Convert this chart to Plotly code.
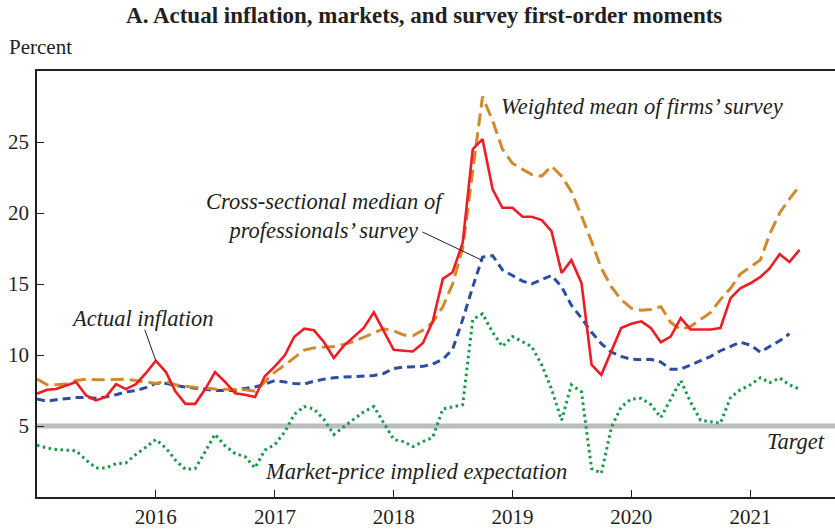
import pandas as pd
import plotly.graph_objects as go

# --- data (monthly, Jan 2015 - Jun 2021), percent -------------------------
START = "2015-01-01"
N_MONTHS = 78

actual_inflation = [
    7.27, 7.55, 7.6, 7.85, 8.1, 7.15, 6.8, 7.05, 7.95, 7.6, 7.95, 8.7,
    9.6, 8.8, 7.45, 6.56, 6.56, 7.6, 8.8, 8.1, 7.3, 7.2, 7.04, 8.5,
    9.2, 10.0, 11.27, 11.85, 11.74, 10.9, 9.79, 10.66, 11.27, 11.9, 13.0, 11.67,
    10.37, 10.3, 10.25, 10.85, 12.37, 15.36, 15.83, 17.9, 24.5, 25.2, 21.67, 20.37,
    20.37, 19.74, 19.74, 19.5, 18.72, 15.78, 16.68, 15.08, 9.32, 8.6, 10.3, 11.9,
    12.2, 12.37, 11.9, 10.9, 11.3, 12.6, 11.8, 11.8, 11.8, 11.9, 14.0, 14.7,
    15.05, 15.5, 16.1, 17.1, 16.55, 17.4,
]

firms_survey = [
    8.3, 7.9, 7.9, 7.95, 8.2, 8.3, 8.25, 8.25, 8.3, 8.3, 8.2, 8.1,
    8.0, 8.15, 7.9, 7.8, 7.7, 7.65, 7.6, 7.6, 7.55, 7.55, 7.45, 8.1,
    8.8, 9.3, 9.8, 10.35, 10.5, 10.55, 10.6, 10.75, 10.95, 11.25, 11.55, 11.85,
    11.7, 11.4, 11.35, 11.75, 12.3, 13.4, 15.0, 17.5, 23.0, 28.2, 26.5, 24.5,
    23.5, 23.1, 22.7, 22.6, 23.3, 22.6, 21.5, 19.8, 18.0, 16.1, 14.8, 13.9,
    13.3, 13.15, 13.2, 13.4, 12.3, 11.8, 12.0, 12.5, 13.0, 13.9, 14.7, 15.7,
    16.2, 16.7, 18.5, 20.0, 21.0, 21.9,
]

professionals_median = [
    6.9, 6.75, 6.85, 6.95, 7.0, 7.0, 6.95, 7.05, 7.2, 7.4, 7.5, 7.7,
    8.0, 8.0, 7.85, 7.75, 7.65, 7.6, 7.5, 7.5, 7.5, 7.65, 7.75, 7.95,
    8.2, 8.1, 8.0, 7.95, 8.15, 8.3, 8.4, 8.45, 8.5, 8.52, 8.55, 8.7,
    9.05, 9.15, 9.15, 9.2, 9.35, 9.7, 10.4, 12.5, 14.8, 16.9, 17.0, 16.0,
    15.6, 15.2, 15.0, 15.3, 15.6, 14.8, 13.5, 12.6, 11.6, 10.8, 10.2, 9.9,
    9.7, 9.67, 9.7, 9.5, 9.0, 9.0, 9.3, 9.6, 9.9, 10.3, 10.6, 10.9,
    10.7, 10.2, 10.6, 11.0, 11.5, None,
]

market_implied = [
    3.65, 3.45, 3.35, 3.3, 3.25, 2.6, 2.05, 2.05, 2.35, 2.4, 3.0, 3.5,
    4.05, 3.45, 2.6, 1.95, 2.0, 3.2, 4.42, 3.6, 3.05, 2.85, 2.05, 3.3,
    3.7, 4.6, 5.8, 6.37, 6.2, 5.45, 4.4, 4.95, 5.5, 6.0, 6.37, 5.2,
    4.05, 3.9, 3.55, 3.9, 4.2, 6.2, 6.35, 6.5, 12.5, 12.9, 11.6, 10.6,
    11.3, 10.95, 10.6, 9.3, 7.6, 5.4, 7.9, 7.4, 2.0, 1.67, 4.9, 6.35,
    6.9, 6.95, 6.5, 5.6, 6.9, 8.2, 6.7, 5.4, 5.3, 5.2, 7.0, 7.55,
    7.9, 8.4, 8.05, 8.38, 7.9, 7.6,
]

TARGET = 5
Y_TICKS = [5, 10, 15, 20, 25]
X_TICK_YEARS = [2016, 2017, 2018, 2019, 2020, 2021]

months = pd.date_range(START, periods=N_MONTHS, freq="MS")

# --- style ------------------------------------------------------------------
INK = "#231f20"
SERIF = "Liberation Serif, Times New Roman, serif"
RED = "#ee1c25"
ORANGE = "#d08a2c"
BLUE = "#2b4ea2"
GREEN = "#159a48"
TARGET_GRAY = "#bbbcbe"

fig = go.Figure()

fig.add_trace(go.Scatter(
    x=[months[0], pd.Timestamp("2021-12-31")], y=[TARGET, TARGET], mode="lines",
    line=dict(color=TARGET_GRAY, width=5), hoverinfo="skip",
))
fig.add_trace(go.Scatter(
    x=months, y=market_implied, mode="lines",
    line=dict(color=GREEN, width=3, dash="2.5px,3.5px"),
))
fig.add_trace(go.Scatter(
    x=months, y=professionals_median, mode="lines",
    line=dict(color=BLUE, width=3, dash="8px,5px"),
))
fig.add_trace(go.Scatter(
    x=months, y=firms_survey, mode="lines",
    line=dict(color=ORANGE, width=3, dash="13px,6px"),
))
fig.add_trace(go.Scatter(
    x=months, y=actual_inflation, mode="lines",
    line=dict(color=RED, width=2.6),
))

ital = dict(family=SERIF, size=22.5, color=INK, style="italic")

fig.add_annotation(text="Weighted mean of firms\u2019 survey", xref="paper", yref="paper",
                   x=0.579, y=0.916, xanchor="left", yanchor="middle",
                   showarrow=False, font=ital)
fig.add_annotation(text="Cross-sectional median of<br>professionals\u2019 survey",
                   xref="paper", yref="paper", x=0.3607, y=0.66,
                   xanchor="center", yanchor="middle", align="center",
                   showarrow=False, font=ital)
fig.add_annotation(text="Actual inflation", xref="paper", yref="paper",
                   x=0.1326, y=0.42, xanchor="center", yanchor="middle",
                   showarrow=False, font=ital)
fig.add_annotation(text="Market-price implied expectation", xref="paper", yref="paper",
                   x=0.4747, y=0.0594, xanchor="center", yanchor="middle",
                   showarrow=False, font=ital)
fig.add_annotation(text="Target", xref="paper", yref="paper",
                   x=0.99, y=0.13, xanchor="right", yanchor="middle",
                   showarrow=False, font=ital)
fig.add_annotation(text="Percent", xref="paper", yref="paper",
                   x=-0.038, y=1.056, xanchor="left", yanchor="middle",
                   showarrow=False, font=dict(family=SERIF, size=21, color=INK))

# leader lines, anchored on the data points they point at
fig.add_shape(type="line", xref="x", yref="y",
              xsizemode="pixel", ysizemode="pixel",
              xanchor=months[12], yanchor=actual_inflation[12],
              x0=0, y0=0, x1=-11, y1=31, line=dict(color=INK, width=1))
fig.add_shape(type="line", xref="x", yref="y",
              xsizemode="pixel", ysizemode="pixel",
              xanchor=months[45], yanchor=professionals_median[45],
              x0=-1, y0=-3, x1=-60, y1=25, line=dict(color=INK, width=1))

fig.update_layout(
    width=835, height=531,
    paper_bgcolor="white", plot_bgcolor="white",
    showlegend=False,
    font=dict(family=SERIF, color=INK, size=21),
    title=dict(text="<b>A. Actual inflation, markets, and survey first-order moments</b>",
               x=0.508, xanchor="center", y=0.972, yanchor="middle", yref="container",
               font=dict(family=SERIF, size=23, color=INK)),
    margin=dict(l=37, r=0, t=71, b=34),
)
fig.update_xaxes(
    type="date", range=["2015-01-01", "2021-09-18"],
    tickvals=[f"{y}-01-01" for y in X_TICK_YEARS],
    ticktext=[str(y) for y in X_TICK_YEARS],
    ticks="inside", ticklen=7, tickcolor=INK, tickwidth=1,
    showline=True, linecolor=INK, linewidth=1.5, mirror=True,
    showgrid=False, zeroline=False,
    tickfont=dict(family=SERIF, size=21, color=INK),
)
fig.update_yaxes(
    range=[0, 30], tickvals=Y_TICKS,
    ticks="inside", ticklen=7, tickcolor=INK, tickwidth=1,
    showline=True, linecolor=INK, linewidth=1.5,
    showgrid=False, zeroline=False, ticklabelstandoff=2,
    tickfont=dict(family=SERIF, size=21, color=INK),
)

# drop the browser's default 8px body margin so the figure sits at (0, 0)
fig.write_html(
    "out.html",
    config={"displayModeBar": False},
    post_script="document.body.style.margin='0';",
)
